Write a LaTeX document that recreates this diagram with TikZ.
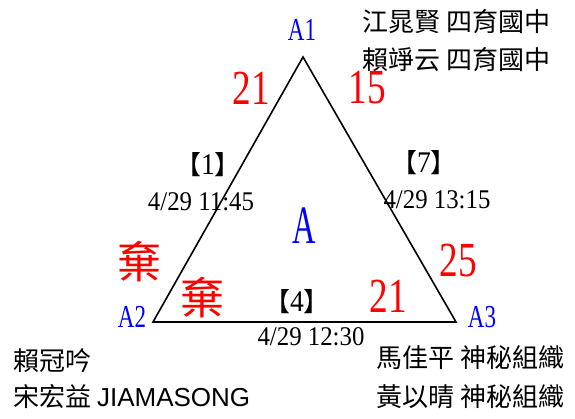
\documentclass[tikz,border=0pt]{standalone}
\usepackage{fontspec}
\setmainfont{Liberation Serif}
\newfontfamily\cjk{Noto Sans CJK TC}
\newfontfamily\arialfont{Liberation Sans}
\newfontfamily\vtxfont[FakeStretch=0.72]{Liberation Serif}
\newfontfamily\bigfont[FakeStretch=0.6]{Liberation Serif}
\newfontfamily\scorefont[FakeStretch=0.76]{Liberation Serif}
\newfontfamily\datefont[FakeStretch=0.92]{Liberation Serif}
\usetikzlibrary{positioning}
\definecolor{VtxBlue}{RGB}{0,0,255}
\definecolor{ScoreRed}{RGB}{255,0,0}

\begin{document}
\begin{tikzpicture}[x=1pt,y=-1pt,
  vtx/.style={inner sep=0pt,text=VtxBlue,font=\vtxfont\fontsize{32}{32}\selectfont},
  score/.style={inner sep=0pt,text=ScoreRed,font=\scorefont\fontsize{49}{49}\selectfont},
  quit/.style={inner sep=0pt,text=ScoreRed,font=\cjk\fontsize{44}{44}\selectfont},
  gameno/.style={inner sep=0pt,font=\cjk\fontsize{26}{26}\selectfont},
  gtime/.style={inner sep=0pt,font=\datefont\fontsize{27}{27}\selectfont},
  team/.style={inner sep=0pt,anchor=west,font=\cjk\fontsize{26}{30}\selectfont},
  edge/.style={line width=1.6pt}
]
\fill[white] (0,0) rectangle (575,419);
\useasboundingbox (0,0) rectangle (575,419);

% triangle of the group
\coordinate (p1) at (303,57);
\coordinate (p2) at (153,322);
\coordinate (p3) at (456,322);
\draw[edge,line join=miter] (p1) -- (p2) -- (p3) -- cycle;

\node[vtx] (a1) at (302,30) {A1};
\node[vtx] (a2) at (132,317) {A2};
\node[vtx] (a3) at (482,317) {A3};
\node[inner sep=0pt,text=VtxBlue,font=\bigfont\fontsize{54}{54}\selectfont] (grp) at (304,226) {A};

% scores
\node[score] (s12) at (251,88) {21};
\node[score] (s13) at (367,88) {15};
\node[score] (s31) at (458,261) {25};
\node[score] (s32) at (388,296) {21};
\node[quit] (q21) at (139,262) {棄};
\node[quit] (q23) at (202,298) {棄};

% games
\node[gameno] (g1) at (208,165) {【{\datefont\fontsize{30}{30}\selectfont 1}】};
\node[gameno] (g7) at (424,163) {【{\datefont\fontsize{30}{30}\selectfont 7}】};
\node[gameno] (g4) at (297,302) {【{\datefont\fontsize{30}{30}\selectfont 4}】};
\node[gtime] (t1) at (201,202) {4/29 11:45};
\node[gtime] (t7) at (437,200) {4/29 13:15};
\node[gtime] (t4) at (311,337) {4/29 12:30};

% players
\node[team] (m1a) at (362,22) {江晁賢 四育國中};
\node[team] (m1b) at (362,60) {賴竫云 四育國中};
\node[team] (m2a) at (13,361) {賴冠吟};
\node[team] (m2b) at (13,397) {宋宏益 {\arialfont JIAMASONG}};
\node[team] (m3a) at (376,358) {馬佳平 神秘組織};
\node[team] (m3b) at (376,397) {黃以晴 神秘組織};
\end{tikzpicture}
\end{document}
